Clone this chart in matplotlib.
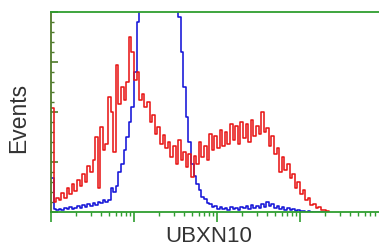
import numpy as np
import matplotlib
matplotlib.use("Agg")
import matplotlib.pyplot as plt
from matplotlib.ticker import LogLocator, NullFormatter, MultipleLocator

# histogram counts per channel bin (32 bins per decade, starting at 10^0)
red_counts = [104, 10, 14, 12, 19, 14, 24, 18, 28, 21,
              32, 26, 38, 30, 46, 40, 52, 75, 24, 85,
              62, 68, 115, 100, 60, 147, 108, 125, 112, 130,
              175, 160, 132, 140, 112, 118, 105, 110, 90, 97,
              78, 85, 68, 77, 64, 70, 55, 66, 48, 72,
              52, 60, 45, 58, 35, 56, 48, 70, 55, 66,
              52, 78, 62, 76, 64, 82, 66, 80, 68, 88,
              72, 86, 68, 90, 74, 88, 70, 92, 76, 86,
              78, 100, 80, 84, 66, 76, 58, 64, 40, 55,
              42, 48, 34, 38, 24, 30, 18, 22, 12, 14,
              7, 8, 4, 5, 2, 2, 1, 0]

blue_counts = [34, 3, 2, 3, 2, 4, 3, 5, 3, 4,
               6, 4, 7, 5, 8, 6, 9, 7, 10, 9,
               12, 10, 12, 24, 20, 26, 40, 48, 62, 75,
               90, 105, 140, 190, 235, 270, 290, 315, 330, 345,
               350, 340, 335, 320, 300, 285, 265, 245, 220, 195,
               160, 125, 95, 70, 48, 36, 28, 22, 15, 13,
               9, 8, 5, 6, 3, 5, 3, 4, 2, 5,
               3, 4, 2, 5, 4, 6, 3, 7, 4, 6,
               4, 8, 5, 10, 6, 8, 4, 6, 3, 5,
               2, 4, 2, 3, 1, 2, 1, 1, 0, 1,
               0, 0, 0, 0, 0, 0, 0, 0]

bins_per_decade = 32
x_label = "UBXN10"
y_label = "Events"

chan = 10 ** (np.arange(len(red_counts)) / bins_per_decade)

fig = plt.figure(figsize=(3.79, 2.5), dpi=100)
ax = fig.add_axes([51 / 379, 38 / 250, 328 / 379, 200 / 250])

green = "#2f9e2f"
ax.step(chan, blue_counts, where="post", color="#1414d8", lw=1.15)
ax.step(chan, red_counts, where="post", color="#e81818", lw=1.15)

ax.set_xscale("log")
ax.set_xlim(1, 10 ** (328 / 83))
ax.set_ylim(0, 200)

ax.xaxis.set_major_locator(LogLocator(base=10, numticks=10))
ax.xaxis.set_minor_locator(LogLocator(base=10, subs=np.arange(2, 10), numticks=20))
ax.xaxis.set_major_formatter(NullFormatter())
ax.xaxis.set_minor_formatter(NullFormatter())
ax.yaxis.set_major_locator(MultipleLocator(50))
ax.yaxis.set_minor_locator(MultipleLocator(10))
ax.yaxis.set_major_formatter(NullFormatter())

ax.tick_params(axis="x", which="major", direction="out", length=7, width=1.2, color=green)
ax.tick_params(axis="x", which="minor", direction="out", length=3, width=1.0, color=green)
ax.tick_params(axis="y", which="major", direction="in", length=5, width=1.2, color="#4f7a2a")
ax.tick_params(axis="y", which="minor", direction="in", length=2.5, width=1.0, color="#4f7a2a")

for side in ["top", "bottom"]:
    ax.spines[side].set_color(green)
    ax.spines[side].set_linewidth(1.3)
ax.spines["left"].set_color("#4f7a2a")
ax.spines["left"].set_linewidth(1.3)
ax.spines["right"].set_visible(False)

ax.set_xlabel(x_label, fontsize=16, family="Liberation Sans", color="#333333")
ax.xaxis.set_label_coords((209 - 51) / 328, -0.072)
ax.set_ylabel(y_label, fontsize=16.5, family="Liberation Sans", color="#333333")
ax.yaxis.set_label_coords(-0.064, 0.4725)

fig.savefig("out.png", dpi=100)
